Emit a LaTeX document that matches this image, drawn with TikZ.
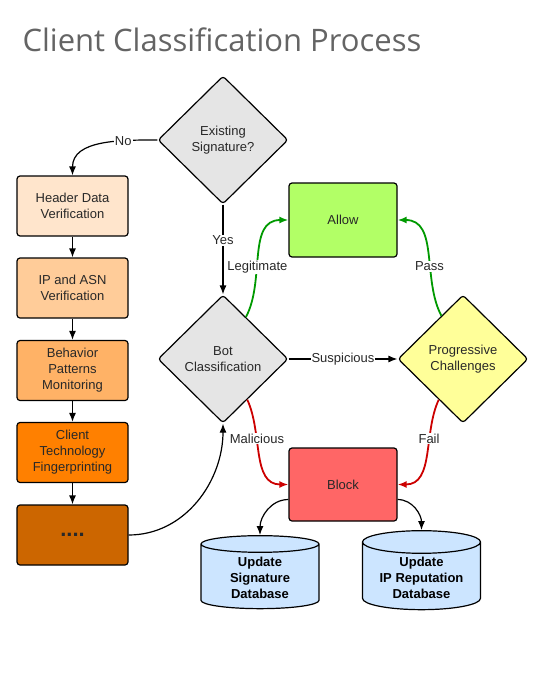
\documentclass[tikz,border=0pt]{standalone}
\usepackage{fontspec}
\setmainfont{Liberation Sans}
\newfontfamily\titlefont{Open Sans}
\usepackage{xcolor}
\usetikzlibrary{arrows.meta,shapes.geometric,calc}

\definecolor{decgray}{RGB}{229,229,229}
\definecolor{hdrfill}{RGB}{255,229,204}
\definecolor{ipfill}{RGB}{255,204,153}
\definecolor{behfill}{RGB}{255,178,102}
\definecolor{techfill}{RGB}{255,128,0}
\definecolor{morefill}{RGB}{204,102,0}
\definecolor{allowfill}{RGB}{178,255,102}
\definecolor{blockfill}{RGB}{255,102,102}
\definecolor{chalfill}{RGB}{255,255,153}
\definecolor{dbfill}{RGB}{204,229,255}
\definecolor{passgreen}{RGB}{0,153,0}
\definecolor{failred}{RGB}{204,0,0}
\definecolor{titlegray}{RGB}{100,100,100}
\definecolor{lblgray}{RGB}{40,40,40}

\begin{document}
\begin{tikzpicture}[x=1pt,y=-1pt,font=\fontsize{13}{16}\selectfont,
    >={Latex[length=9pt,width=7pt]}]
  \tikzset{box/.style = {draw,line width=1.2pt,rounded corners=3pt,minimum width=111pt,
      minimum height=60pt,align=center,fill=#1,text=lblgray}}
  \tikzset{decision/.style = {diamond,draw,line width=1.2pt,rounded corners=3pt,inner sep=0pt,
      minimum width=130pt,minimum height=128pt,align=center,fill=#1,text=lblgray}}
  \tikzset{db/.style = {cylinder,shape border rotate=90,draw,line width=1.2pt,aspect=0.25,
      minimum width=118pt,minimum height=73pt,align=center,fill=dbfill,font=\fontsize{13}{16}\selectfont\bfseries}}
  \tikzset{lbl/.style = {fill=white,inner sep=1pt,text=lblgray}}
  \tikzset{flow/.style = {->,line width=1.2pt}}
  \tikzset{okflow/.style = {->,line width=1.8pt,draw=passgreen,>={Latex[length=9pt,width=7pt,fill=passgreen]}}}
  \tikzset{badflow/.style = {->,line width=1.8pt,draw=failred,>={Latex[length=9pt,width=7pt,fill=failred]}}}

  \useasboundingbox (0,0) rectangle (544,680);

  \node[anchor=west,text=titlegray,font=\titlefont\fontsize{31}{36}\selectfont] (title) at (19,40)
    {Client Classification Process};

  % decisions
  \node[decision=decgray] (exist) at (223,140) {Existing\\Signature?};
  \node[decision=decgray] (bot) at (223,359) {Bot\\Classification};
  \node[decision=chalfill] (chal) at (463,359) {Progressive\\Challenges};

  % checks on the left
  \node[box=hdrfill] (hdr) at (72.5,206) {Header Data\\Verification};
  \node[box=ipfill] (ip) at (72.5,288) {IP and ASN\\Verification};
  \node[box=behfill] (beh) at (72.5,370.5) {Behavior\\Patterns\\Monitoring};
  \node[box=techfill] (tech) at (72.5,452.5) {Client\\Technology\\Fingerprinting};
  \node[box=morefill,font=\fontsize{22}{22}\selectfont\bfseries] (more) at (72.5,535) {\raisebox{-3pt}{....}};

  % outcomes
  \node[box=allowfill,minimum width=108pt,minimum height=74pt] (allow) at (343,220) {Allow};
  \node[box=blockfill,minimum width=108pt,minimum height=73pt] (block) at (343,484.5) {Block};
  \node[db] (dbsig) at (260,578) {Update\\Signature\\Database};
  \node[db] (dbip) at (421.5,578) {Update\\IP Reputation\\Database};

  \draw[flow] (exist.west) to[out=180,in=90] node[lbl,pos=0.3] {No} (hdr.north);
  \draw[flow] (exist.south) -- node[lbl,pos=0.4] {Yes} (bot.north);
  \draw[flow] (hdr) -- (ip);
  \draw[flow] (ip) -- (beh);
  \draw[flow] (beh) -- (tech);
  \draw[flow] (tech) -- (more);
  \draw[flow] (more.east) to[out=0,in=-90] (bot.south);
  \draw[flow] (bot.east) -- node[lbl] {Suspicious} (chal.west);

  \draw[okflow] ($(bot.north)!0.35!(bot.east)$) to[out=62,in=180]
    node[lbl,pos=0.4] {Legitimate} (allow.west);
  \draw[okflow] ($(chal.north)!0.33!(chal.west)$) to[out=118,in=0]
    node[lbl,pos=0.4] {Pass} (allow.east);
  \draw[badflow] ($(bot.south)!0.37!(bot.east)$) to[out=-65,in=180]
    node[lbl,pos=0.35] {Malicious} (block.west);
  \draw[badflow] ($(chal.south)!0.37!(chal.west)$) to[out=-115,in=0]
    node[lbl,pos=0.35] {Fail} (block.east);

  \draw[flow] ($(block.west)+(0,15)$) to[out=180,in=90] (dbsig.north);
  \draw[flow] ($(block.east)+(0,15)$) to[out=0,in=90] (dbip.north);
\end{tikzpicture}
\end{document}
